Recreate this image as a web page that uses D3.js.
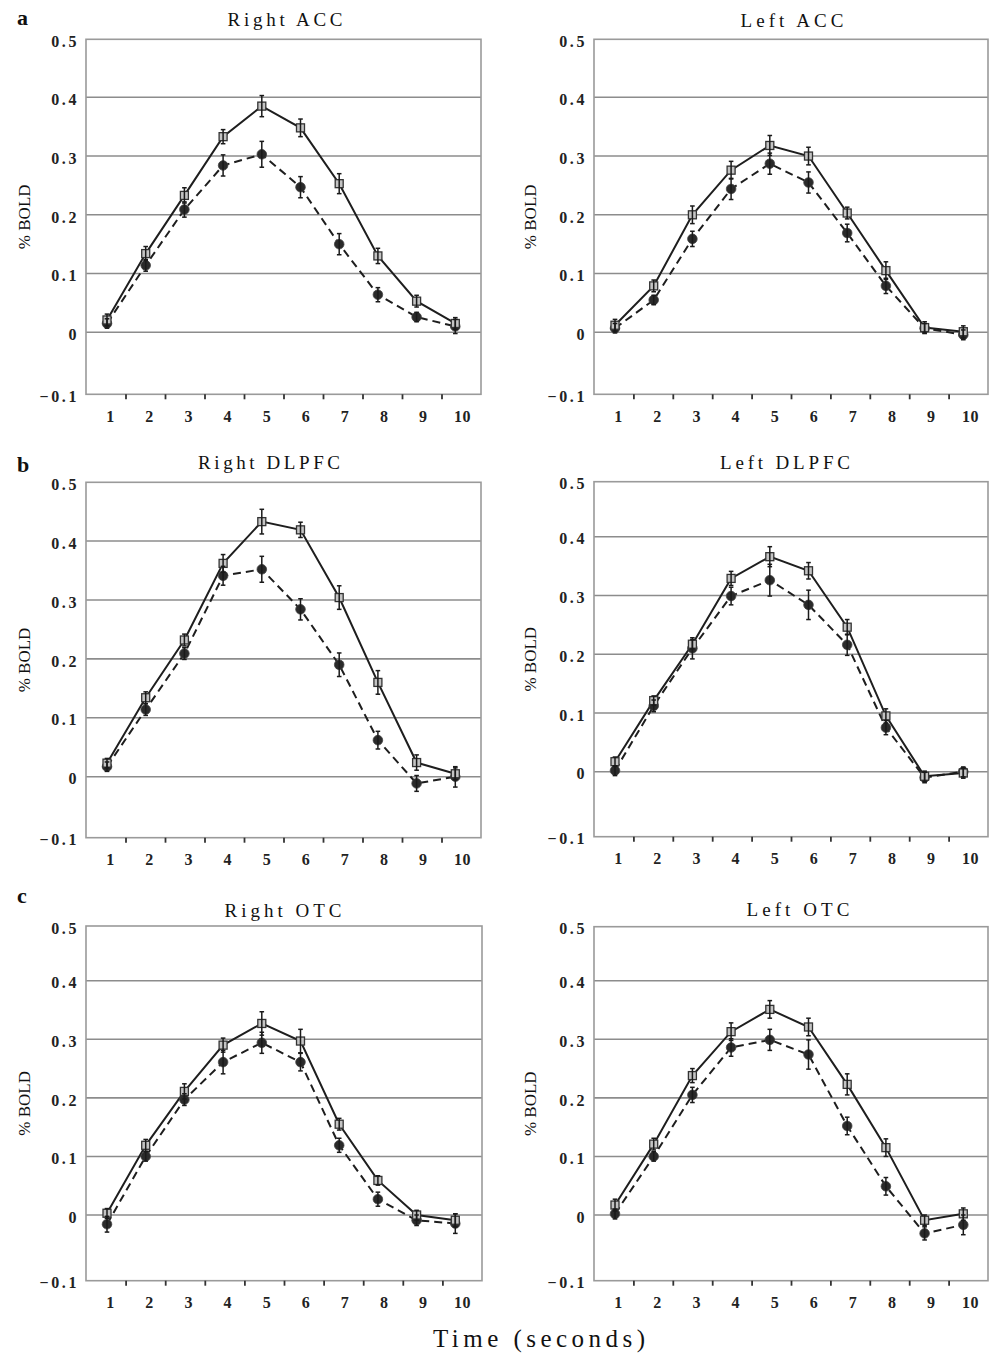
<!DOCTYPE html>
<html>
<head>
<meta charset="utf-8">
<script src="https://cdn.jsdelivr.net/npm/d3@7/dist/d3.min.js"></script>
<style>
  html, body { margin: 0; padding: 0; background: #fff; }
  svg { display: block; }
</style>
</head>
<body>
<svg id="chart" width="992" height="1354"></svg>
<script>
// ---------------- DATA ----------------
const timePoints = [1, 2, 3, 4, 5, 6, 7, 8, 9, 10];
const yTickValues = [-0.1, 0, 0.1, 0.2, 0.3, 0.4, 0.5];
const gridValues = [0, 0.1, 0.2, 0.3, 0.4];
const panelLetters = ["a", "b", "c"];
const panelTitles = ["Right ACC", "Left ACC", "Right DLPFC", "Left DLPFC", "Right OTC", "Left OTC"];
const yAxisLabel = "% BOLD";
const xAxisLabel = "Time (seconds)";

// open squares, solid line
const rightAccSquare = [0.021, 0.134, 0.233, 0.333, 0.385, 0.348, 0.253, 0.130, 0.053, 0.015];
const leftAccSquare  = [0.012, 0.079, 0.200, 0.276, 0.318, 0.300, 0.203, 0.105, 0.008, 0.001];
const rightDlpfcSquare = [0.023, 0.134, 0.232, 0.362, 0.433, 0.419, 0.304, 0.160, 0.024, 0.005];
const leftDlpfcSquare  = [0.017, 0.121, 0.217, 0.329, 0.366, 0.342, 0.246, 0.095, -0.007, -0.002];
const rightOtcSquare = [0.003, 0.119, 0.211, 0.290, 0.327, 0.297, 0.155, 0.059, 0.000, -0.008];
const leftOtcSquare  = [0.017, 0.121, 0.238, 0.313, 0.351, 0.321, 0.223, 0.115, -0.008, 0.002];

// filled circles, dashed line
const rightAccCircle = [0.015, 0.114, 0.209, 0.284, 0.303, 0.247, 0.150, 0.064, 0.026, 0.010];
const leftAccCircle  = [0.007, 0.055, 0.159, 0.244, 0.287, 0.255, 0.169, 0.079, 0.007, -0.004];
const rightDlpfcCircle = [0.017, 0.114, 0.209, 0.341, 0.352, 0.284, 0.190, 0.062, -0.011, 0.000];
const leftDlpfcCircle  = [0.002, 0.112, 0.210, 0.299, 0.326, 0.284, 0.216, 0.075, -0.009, 0.000];
const rightOtcCircle = [-0.014, 0.100, 0.197, 0.261, 0.294, 0.261, 0.119, 0.027, -0.008, -0.013];
const leftOtcCircle  = [0.002, 0.100, 0.205, 0.286, 0.299, 0.274, 0.152, 0.049, -0.028, -0.015];

// error bar half-lengths
const rightAccSquareErr = [0.010, 0.012, 0.013, 0.012, 0.018, 0.015, 0.017, 0.013, 0.010, 0.010];
const leftAccSquareErr  = [0.010, 0.010, 0.015, 0.015, 0.017, 0.015, 0.010, 0.015, 0.010, 0.010];
const rightDlpfcSquareErr = [0.008, 0.010, 0.010, 0.015, 0.021, 0.013, 0.020, 0.020, 0.013, 0.010];
const leftDlpfcSquareErr  = [0.008, 0.008, 0.008, 0.012, 0.017, 0.014, 0.013, 0.012, 0.008, 0.008];
const rightOtcSquareErr = [0.008, 0.010, 0.013, 0.012, 0.020, 0.020, 0.010, 0.008, 0.008, 0.010];
const leftOtcSquareErr  = [0.010, 0.010, 0.012, 0.015, 0.015, 0.015, 0.018, 0.015, 0.008, 0.010];

const rightAccCircleErr = [0.008, 0.010, 0.013, 0.018, 0.022, 0.018, 0.018, 0.012, 0.008, 0.012];
const leftAccCircleErr  = [0.008, 0.008, 0.013, 0.018, 0.018, 0.018, 0.015, 0.013, 0.008, 0.008];
const rightDlpfcCircleErr = [0.008, 0.010, 0.010, 0.016, 0.022, 0.018, 0.020, 0.015, 0.013, 0.017];
const leftDlpfcCircleErr  = [0.008, 0.010, 0.018, 0.015, 0.027, 0.025, 0.018, 0.012, 0.008, 0.008];
const rightOtcCircleErr = [0.012, 0.008, 0.010, 0.020, 0.018, 0.015, 0.012, 0.012, 0.008, 0.015];
const leftOtcCircleErr  = [0.008, 0.008, 0.013, 0.015, 0.018, 0.025, 0.015, 0.015, 0.010, 0.015];

const squareSeries = [rightAccSquare, leftAccSquare, rightDlpfcSquare, leftDlpfcSquare, rightOtcSquare, leftOtcSquare];
const circleSeries = [rightAccCircle, leftAccCircle, rightDlpfcCircle, leftDlpfcCircle, rightOtcCircle, leftOtcCircle];
const squareErrors = [rightAccSquareErr, leftAccSquareErr, rightDlpfcSquareErr, leftDlpfcSquareErr, rightOtcSquareErr, leftOtcSquareErr];
const circleErrors = [rightAccCircleErr, leftAccCircleErr, rightDlpfcCircleErr, leftDlpfcCircleErr, rightOtcCircleErr, leftOtcCircleErr];

// ---------------- LAYOUT ----------------
const layout = [
  {left: 86,  right: 481, top: 39.3,  y04: 97.3,  zero: 332.3,  bottom: 394.3,  titleX: 285, titleY: 26,  titleW: 115},
  {left: 594, right: 988, top: 39.3,  y04: 97.3,  zero: 332.3,  bottom: 394.3,  titleX: 792, titleY: 27,  titleW: 103},
  {left: 86,  right: 481, top: 482.3, y04: 541,   zero: 776.7,  bottom: 837.7,  titleX: 269, titleY: 469, titleW: 142},
  {left: 594, right: 988, top: 481.7, y04: 536.7, zero: 771.7,  bottom: 836.7,  titleX: 785, titleY: 469, titleW: 130},
  {left: 86,  right: 482, top: 926,   y04: 980.7, zero: 1215,   bottom: 1280.7, titleX: 283, titleY: 917, titleW: 117},
  {left: 594, right: 988, top: 926.7, y04: 980.7, zero: 1215,   bottom: 1280.7, titleX: 798, titleY: 916, titleW: 103}
];
const letterPos = [{x: 17, y: 25}, {x: 17, y: 472}, {x: 17, y: 903}];

const svg = d3.select("#chart");
const serif = "'Liberation Serif', 'DejaVu Serif', serif";
const lineColor = "#1e1e1e";
const gridColor = "#8c8c8c";

panelLetters.forEach((l, i) => {
  svg.append("text")
    .attr("x", letterPos[i].x).attr("y", letterPos[i].y)
    .attr("font-family", serif).attr("font-weight", "bold")
    .attr("font-size", 22).attr("fill", "#111")
    .text(l);
});

layout.forEach((L, p) => {
  const g = svg.append("g");
  const y = d3.scaleLinear()
    .domain([-0.1, 0, 0.4, 0.5])
    .range([L.bottom, L.zero, L.y04, L.top]);
  const xTick = d3.scaleLinear().domain([0, 10]).range([L.left, L.right]);
  const xPt = d3.scaleLinear().domain([1, 10]).range([L.left + 21, L.left + 21 + 9 * 38.7]);
  const xLab = d3.scaleLinear().domain([1, 10]).range([L.left + 24, L.left + 24 + 9 * 39.1]);

  // gridlines
  g.selectAll("line.grid").data(gridValues).join("line")
    .attr("class", "grid")
    .attr("x1", L.left).attr("x2", L.right)
    .attr("y1", d => y(d)).attr("y2", d => y(d))
    .attr("stroke", gridColor).attr("stroke-width", 1.6);

  // frame
  g.append("rect")
    .attr("x", L.left).attr("y", L.top)
    .attr("width", L.right - L.left).attr("height", L.bottom - L.top)
    .attr("fill", "none").attr("stroke", "#9a9a9a").attr("stroke-width", 1.6);

  // y axis labels via d3 axis
  const yAxis = d3.axisLeft(y).tickValues(yTickValues).tickSize(0).tickPadding(0)
    .tickFormat(d => d === 0 ? "0" : d3.format(".1f")(d));
  const ya = g.append("g").attr("transform", `translate(${L.left - 7},0)`).call(yAxis);
  ya.select(".domain").remove();
  ya.selectAll("text")
    .attr("font-family", serif).attr("font-weight", "bold").attr("font-size", 16)
    .attr("fill", "#222").attr("letter-spacing", "2.6px").attr("dy", "0.45em");

  // x tick marks between categories
  const xAxisTicks = d3.axisBottom(xTick).tickValues(d3.range(1, 10)).tickSize(5).tickFormat("");
  const xa = g.append("g").attr("transform", `translate(0,${L.bottom})`).call(xAxisTicks);
  xa.select(".domain").remove();
  xa.selectAll("line").attr("stroke", "#333").attr("stroke-width", 1.8);

  // x labels
  const xAxisLabels = d3.axisBottom(xLab).tickValues(timePoints).tickSize(0).tickPadding(0).tickFormat(d3.format("d"));
  const xl = g.append("g").attr("transform", `translate(0,${L.bottom + 27.5})`).call(xAxisLabels);
  xl.select(".domain").remove();
  xl.selectAll("text")
    .attr("font-family", serif).attr("font-weight", "bold").attr("font-size", 16)
    .attr("fill", "#222").attr("dy", 0).attr("y", 0).attr("letter-spacing", "0.5px");

  // title
  g.append("text")
    .attr("x", L.titleX).attr("y", L.titleY)
    .attr("text-anchor", "middle")
    .attr("font-family", serif).attr("font-size", 19).attr("fill", "#111")
    .attr("textLength", L.titleW).attr("lengthAdjust", "spacing")
    .text(panelTitles[p]);

  // y axis title
  const ymid = (L.top + L.bottom) / 2;
  const yx = L.left - (p % 2 === 0 ? 62 : 64);
  g.append("text")
    .attr("transform", `translate(${yx + 6},${ymid}) rotate(-90)`)
    .attr("text-anchor", "middle")
    .attr("font-family", serif).attr("font-size", 17).attr("fill", "#111")
    .text(yAxisLabel);

  const sq = timePoints.map((t, i) => ({t, v: squareSeries[p][i], e: squareErrors[p][i]}));
  const ci = timePoints.map((t, i) => ({t, v: circleSeries[p][i], e: circleErrors[p][i]}));
  const line = d3.line().x(d => xPt(d.t)).y(d => y(d.v));

  // dashed circle line
  g.append("path").datum(ci).attr("d", line)
    .attr("fill", "none").attr("stroke", lineColor).attr("stroke-width", 2)
    .attr("stroke-dasharray", "8,5");
  // solid square line
  g.append("path").datum(sq).attr("d", line)
    .attr("fill", "none").attr("stroke", lineColor).attr("stroke-width", 2);

  // circles
  g.selectAll("circle.pt").data(ci).join("circle")
    .attr("class", "pt")
    .attr("cx", d => xPt(d.t)).attr("cy", d => y(d.v)).attr("r", 4.8)
    .attr("fill", "#2a2a2a").attr("stroke", "#444").attr("stroke-width", 0.8);

  // squares
  g.selectAll("rect.pt").data(sq).join("rect")
    .attr("class", "pt")
    .attr("x", d => xPt(d.t) - 4).attr("y", d => y(d.v) - 4)
    .attr("width", 8).attr("height", 8)
    .attr("fill", "#c4c4c4").attr("stroke", "#333").attr("stroke-width", 1.3);

  // error bars
  const drawErr = (data, cls) => {
    const eg = g.selectAll("g." + cls).data(data).join("g").attr("class", cls);
    eg.append("line")
      .attr("x1", d => xPt(d.t)).attr("x2", d => xPt(d.t))
      .attr("y1", d => y(d.v - d.e)).attr("y2", d => y(d.v + d.e))
      .attr("stroke", "#1a1a1a").attr("stroke-width", 1.5);
    eg.append("line")
      .attr("x1", d => xPt(d.t) - 2.3).attr("x2", d => xPt(d.t) + 2.3)
      .attr("y1", d => y(d.v + d.e)).attr("y2", d => y(d.v + d.e))
      .attr("stroke", "#1a1a1a").attr("stroke-width", 1.5);
    eg.append("line")
      .attr("x1", d => xPt(d.t) - 2.3).attr("x2", d => xPt(d.t) + 2.3)
      .attr("y1", d => y(d.v - d.e)).attr("y2", d => y(d.v - d.e))
      .attr("stroke", "#1a1a1a").attr("stroke-width", 1.5);
  };
  drawErr(ci, "errc");
  drawErr(sq, "errs");
});

// shared x axis title
svg.append("text")
  .attr("x", 539).attr("y", 1347)
  .attr("text-anchor", "middle")
  .attr("font-family", serif).attr("font-size", 25).attr("fill", "#111")
  .attr("textLength", 212).attr("lengthAdjust", "spacing")
  .text(xAxisLabel);
</script>
</body>
</html>
